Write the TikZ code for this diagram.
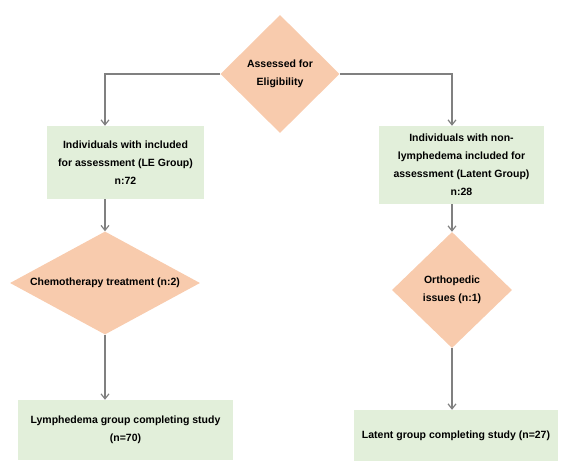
\documentclass[tikz,border=0pt]{standalone}
\usepackage{fontspec}
\setmainfont{Liberation Sans}
\usetikzlibrary{shapes.geometric,arrows.meta}

\definecolor{peach}{RGB}{248,203,173}
\definecolor{palegreen}{RGB}{226,239,218}
\definecolor{linegray}{RGB}{128,128,128}

\begin{document}
\begin{tikzpicture}[x=1pt,y=-1pt,
		decision/.style={diamond,fill=peach,inner sep=0pt,align=center,font=\fontsize{10.5}{18}\selectfont\bfseries},
		stepbox/.style={rectangle,fill=palegreen,inner sep=0pt,align=center,font=\fontsize{10.5}{18}\selectfont\bfseries},
		arr/.style={draw=linegray,line width=1.2pt,-{Straight Barb[length=5pt,width=8pt]}}]
		\useasboundingbox (0,0) rectangle (561,462);
		
		\node[decision,aspect=1,minimum width=119pt,minimum height=118pt] (elig) at (280,74) {Assessed for\\Eligibility};
		
		\node[stepbox,minimum width=157pt,minimum height=73pt] (lebox) at (125.5,162.5) {Individuals with included\\for assessment (LE Group)\\n:72};
		\node[stepbox,minimum width=165pt,minimum height=78pt] (latbox) at (461.5,165) {Individuals with non-\\lymphedema included for\\assessment (Latent Group)\\n:28};
		
		\node[decision,aspect=1.84,minimum width=190pt,minimum height=103pt] (chemo) at (105,283) {Chemotherapy treatment (n:2)};
		\node[decision,aspect=1.03,minimum width=120pt,minimum height=116pt] (ortho) at (452,290) {Orthopedic\\issues (n:1)};
		
		\node[stepbox,minimum width=215pt,minimum height=60pt] (lymdone) at (125.5,430) {Lymphedema group completing study\\(n=70)};
		\node[stepbox,minimum width=204pt,minimum height=51pt] (latdone) at (456,435.5) {Latent group completing study (n=27)};
		
		\draw[arr] (elig.west) -| (lebox.north -| chemo.north);
		\draw[arr] (elig.east) -| (latbox.north -| ortho.north);
		\draw[arr] (lebox.south -| chemo.north) -- (chemo.north);
		\draw[arr] (latbox.south -| ortho.north) -- (ortho.north);
		\draw[arr] (chemo.south) -- (lymdone.north -| chemo.south);
		\draw[arr] (ortho.south) -- (latdone.north -| ortho.south);
	\end{tikzpicture}
\end{document}
